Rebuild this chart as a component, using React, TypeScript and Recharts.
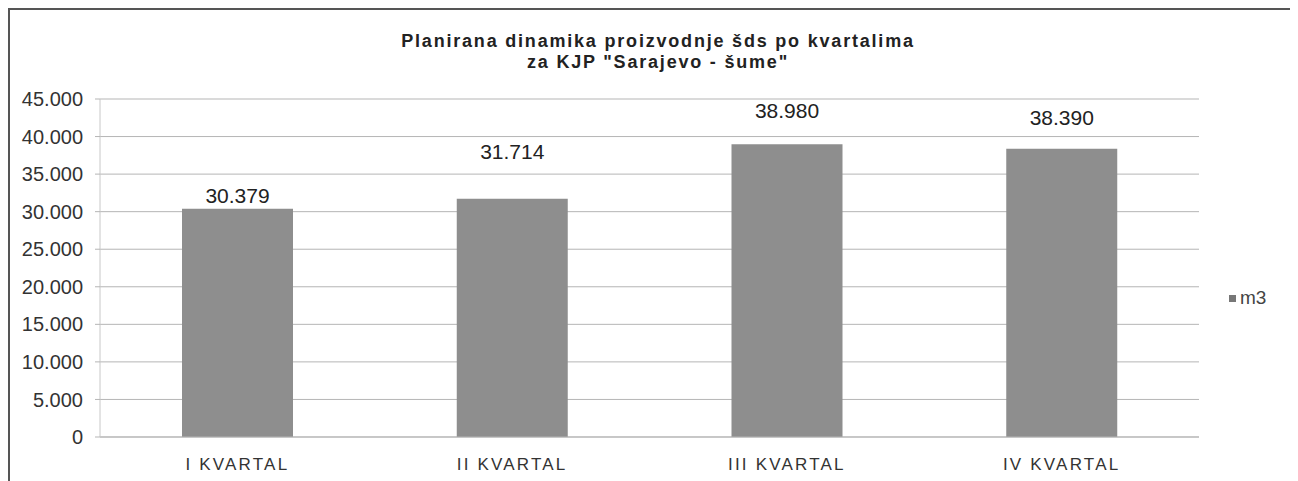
import { BarChart, Bar, XAxis, YAxis, CartesianGrid, LabelList } from "recharts";

const categories = ["I KVARTAL", "II KVARTAL", "III KVARTAL", "IV KVARTAL"];
const m3Values = [30379, 31714, 38980, 38390];
const yTicks = [0, 5000, 10000, 15000, 20000, 25000, 30000, 35000, 40000, 45000];
// label baseline lift above each bar top, as placed in the original
const labelLift = [6, 40, 26, 24];

const data = categories.map((name, i) => ({ name, m3: m3Values[i] }));

const fmt = (v: number) => v.toLocaleString("de-DE");

const FONT = '"Liberation Sans", Arial, sans-serif';

const ValueLabel = (props: any) => {
  const { x, y, width, value, index } = props;
  return (
    <text
      x={x + width / 2}
      y={y - labelLift[index]}
      textAnchor="middle"
      fontSize={21}
      fontFamily={FONT}
      fill="#222"
    >
      {fmt(value)}
    </text>
  );
};

export default function App() {
  return (
    <div
      style={{
        position: "relative",
        width: 1286,
        height: 473,
        borderLeft: "2px solid #555",
        borderTop: "2px solid #555",
        borderRight: "1px solid #ddd",
        background: "#fff",
        fontFamily: FONT,
      }}
    >
      <div
        style={{
          position: "absolute",
          left: 0,
          width: 1296,
          top: 21,
          textAlign: "center",
          fontWeight: "bold",
          fontSize: 18,
          letterSpacing: 1.8,
          lineHeight: "21px",
          color: "#222",
        }}
      >
        Planirana dinamika proizvodnje šds po kvartalima
        <br />
        za KJP "Sarajevo - šume"
      </div>
      <BarChart
        width={1286}
        height={473}
        data={data}
        margin={{ top: 89, right: 97, left: 0, bottom: 16 }}
      >
        <CartesianGrid vertical={false} stroke="#b5b5b5" />
        <XAxis
          dataKey="name"
          height={30}
          axisLine={{ stroke: "#b5b5b5" }}
          tickLine={false}
          tick={{ fontSize: 17, fill: "#333", fontFamily: FONT, letterSpacing: 2.2 }}
          tickMargin={15}
        />
        <YAxis
          width={90}
          domain={[0, 45000]}
          ticks={yTicks}
          interval={0}
          tickFormatter={fmt}
          axisLine={{ stroke: "#c8c8c8" }}
          tickLine={{ stroke: "#b5b5b5" }}
          tickSize={5}
          tickMargin={12}
          tick={{ fontSize: 20, fill: "#333", fontFamily: FONT }}
        />
        <Bar dataKey="m3" fill="#8e8e8e" barSize={111} isAnimationActive={false}>
          <LabelList dataKey="m3" content={<ValueLabel />} />
        </Bar>
      </BarChart>
      <div
        style={{
          position: "absolute",
          left: 1219,
          top: 277,
          display: "flex",
          alignItems: "center",
          fontSize: 19,
          color: "#444",
        }}
      >
        <span
          style={{ width: 7, height: 7, background: "#777", display: "inline-block", marginRight: 4 }}
        />
        m3
      </div>
    </div>
  );
}
